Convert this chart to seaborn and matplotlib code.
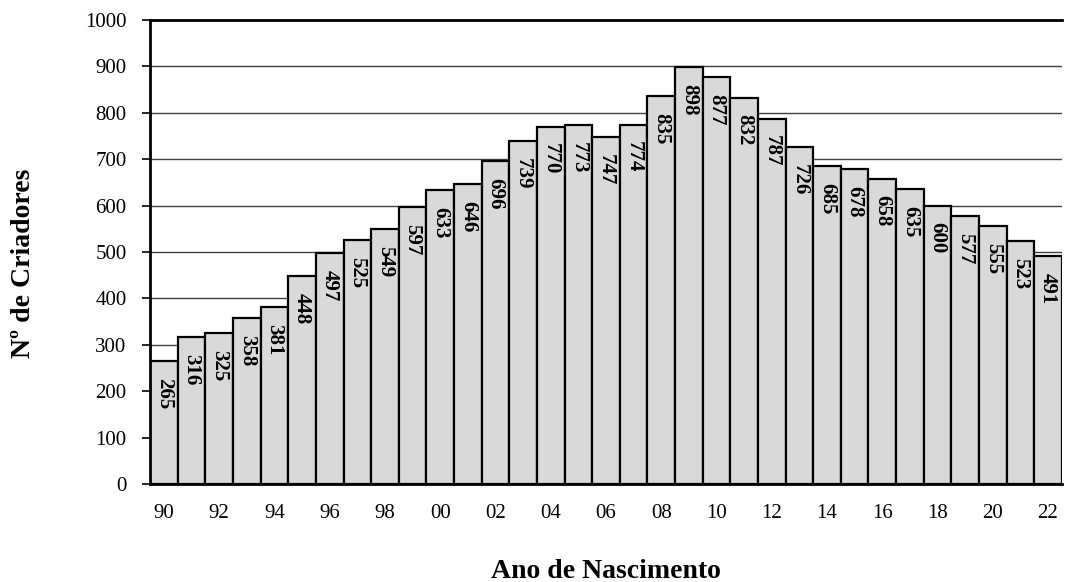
import numpy as np
import pandas as pd
import matplotlib
matplotlib.use('Agg')
import matplotlib.pyplot as plt
import seaborn as sns
from matplotlib.ticker import FixedLocator, MultipleLocator

sns.set_theme(style='white')
plt.rcParams['font.family'] = ['Liberation Serif', 'DejaVu Serif']
plt.rcParams['text.color'] = 'black'
plt.rcParams['axes.labelcolor'] = 'black'
plt.rcParams['xtick.color'] = 'black'
plt.rcParams['ytick.color'] = 'black'

# anos de nascimento (1990-2022) e numero de criadores
anos = [str(a % 100).zfill(2) for a in range(1990, 2023)]
criadores = [265, 316, 325, 358, 381, 448, 497, 525, 549, 597, 633, 646, 696,
             739, 770, 773, 747, 774, 835, 898, 877, 832, 787, 726, 685, 678,
             658, 635, 600, 577, 555, 523, 491]

df = pd.DataFrame({'ano': anos, 'criadores': criadores})

fig = plt.figure(figsize=(10.65, 5.82), dpi=100)
ax = fig.add_axes([0.141, 0.168, 0.856, 0.798])

ax.set_axisbelow(True)
ax.yaxis.grid(True, color='#404040', linewidth=1.0)

sns.barplot(data=df, x='ano', y='criadores', color='#d9d9d9', width=1.0,
            edgecolor='black', linewidth=1.6, saturation=1, ax=ax)

# valores dentro das barras, na vertical
for i, v in enumerate(criadores):
    ax.annotate(str(v), xy=(i, v), xytext=(0, -12), textcoords='offset points',
                rotation=270, ha='center', va='top',
                fontsize=15, fontweight='bold', color='black')

ax.set_xlim(-0.5, len(anos) - 0.5)
ax.set_ylim(0, 1000)
ax.yaxis.set_major_locator(MultipleLocator(100))

# rotulos a cada 2 anos, tracos nas bordas das barras
pos = list(range(0, len(anos), 2))
ax.set_xticks(pos)
ax.set_xticklabels([anos[i] for i in pos])
ax.xaxis.set_minor_locator(FixedLocator(np.arange(-0.5, len(anos), 1.0)))
ax.tick_params(axis='x', which='major', length=0, pad=14, labelsize=15)
ax.tick_params(axis='x', which='minor', length=6, width=1.2, color='black', direction='out')
ax.tick_params(axis='y', which='major', length=6, width=1.2, color='black',
               direction='out', labelsize=15, pad=11, left=True)

for side in ['left', 'bottom', 'top']:
    ax.spines[side].set_color('black')
    ax.spines[side].set_linewidth(2.0)
ax.spines['right'].set_visible(False)

ax.set_xlabel('Ano de Nascimento', fontsize=20, fontweight='bold', labelpad=26)
ax.set_ylabel('Nº de Criadores', fontsize=20, fontweight='bold')
ax.yaxis.set_label_coords(-0.125, 0.475)

fig.savefig('out.png', dpi=100)
